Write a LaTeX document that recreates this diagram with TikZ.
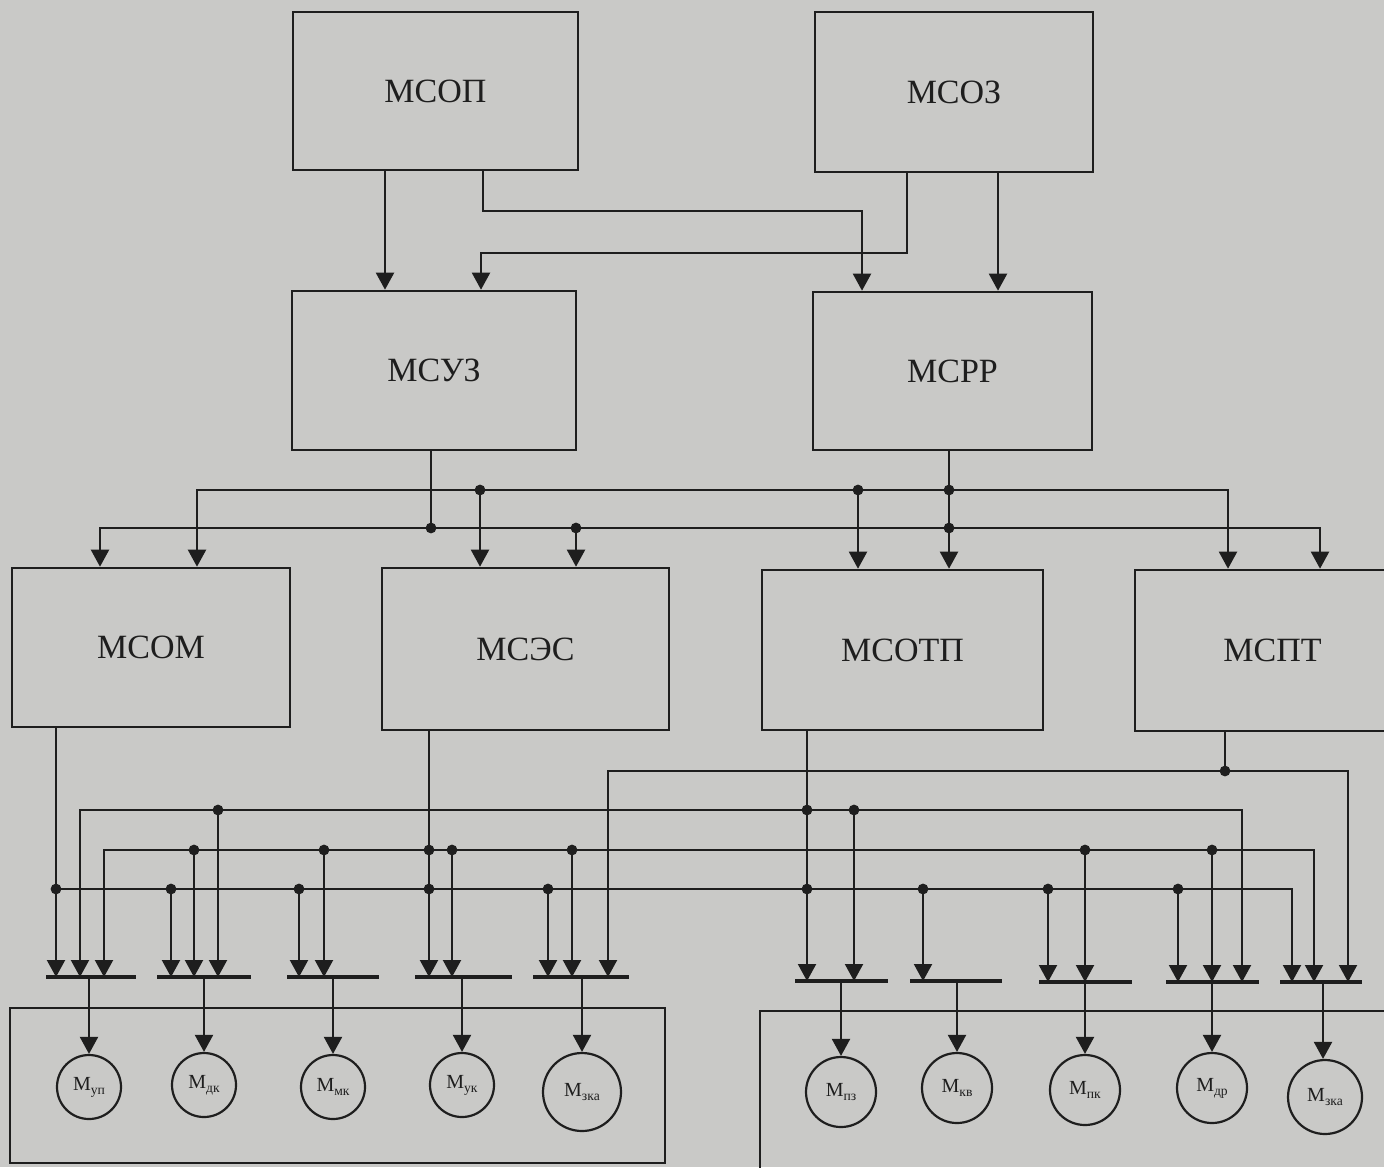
\documentclass[tikz,border=0pt]{standalone}
\usepackage{fontspec}
\setmainfont{Liberation Serif}
\usetikzlibrary{arrows.meta,calc}
\definecolor{paper}{RGB}{201,201,199}
\definecolor{ink}{RGB}{30,30,30}
% module label: letter M with a small lowered index
\newcommand\Msub[1]{М\raisebox{-0.45ex}{\fontsize{6.8}{7}\selectfont #1}}

\begin{document}
\begin{tikzpicture}[x=0.5pt,y=-0.5pt,
  >={Triangle[width=9pt,length=8.5pt]},
  wire/.style={draw=ink,line width=1.05pt},
  blk/.style={draw=ink,line width=1.3pt,inner sep=0pt,text=ink,
              font=\fontsize{17}{19}\selectfont},
  mod/.style={draw=ink,line width=1.1pt,circle,inner sep=0pt,text=ink,
              font=\fontsize{10}{11}\selectfont},
  frame/.style={draw=ink,line width=1.2pt,inner sep=0pt},
  barline/.style={draw=ink,line width=1.6pt},
  jdot/.style={fill=ink}]

\useasboundingbox (0,0) rectangle (1384,1167);
\clip (0,0) rectangle (1384,1167);
\fill[paper] (0,0) rectangle (1384,1167);

% ---------- control blocks ----------
\node[blk,minimum width=142.5pt,minimum height=79pt]  (msop)  at (435.5,91)    {МСОП};
\node[blk,minimum width=139pt,minimum height=80pt]    (msoz)  at (954,92)      {МСОЗ};
\node[blk,minimum width=142pt,minimum height=79.5pt]  (msuz)  at (434,370.5)   {МСУЗ};
\node[blk,minimum width=139.5pt,minimum height=79pt]  (msrr)  at (952.5,371)   {МСРР};
\node[blk,minimum width=139pt,minimum height=79.5pt]  (msom)  at (151,647.5)   {МСОМ};
\node[blk,minimum width=143.5pt,minimum height=81pt]  (mses)  at (525.5,649)   {МСЭС};
\node[blk,minimum width=140.5pt,minimum height=80pt]  (msotp) at (902.5,650)   {МСОТП};
\node[blk,minimum width=137.5pt,minimum height=80.5pt] (mspt) at (1272.5,650.5) {МСПТ};

% ---------- level 1 -> level 2 ----------
\draw[wire,->] (msop.south -| 385,0) -- (msuz.north -| 385,0);
\draw[wire,->] (msop.south -| 483,0) |- (862,211) -- (msrr.north -| 862,0);
\draw[wire,->] (msoz.south -| 907,0) |- (481,253) -- (msuz.north -| 481,0);
\draw[wire,->] (msoz.south -| 998,0) -- (msrr.north -| 998,0);

% ---------- level 2 -> level 3 ----------
\coordinate (a197) at (197,490);  \coordinate (a480) at (480,490);
\coordinate (a858) at (858,490);  \coordinate (a949) at (949,490);
\coordinate (a1228) at (1228,490);
\coordinate (b100) at (100,528);  \coordinate (b431) at (431,528);
\coordinate (b576) at (576,528);  \coordinate (b949) at (949,528);
\coordinate (b1320) at (1320,528);

\draw[wire,<->] (msom.north -| a197) -- (a197) -- (a1228) -- (mspt.north -| a1228);
\draw[wire,<->] (msom.north -| b100) -- (b100) -- (b1320) -- (mspt.north -| b1320);
\draw[wire] (msuz.south -| b431) -- (b431);
\draw[wire,->] (msrr.south -| a949) -- (msotp.north -| a949);
\draw[wire,->] (a480) -- (mses.north -| a480);
\draw[wire,->] (b576) -- (mses.north -| b576);
\draw[wire,->] (a858) -- (msotp.north -| a858);
\foreach \j in {a480,a858,a949,b431,b576,b949} \fill[jdot] (\j) circle (2.7pt);

% ---------- input bars of the modules ----------
\coordinate (g1) at (89,977);   \coordinate (g2) at (204,977);
\coordinate (g3) at (333,977);  \coordinate (g4) at (462,977);
\coordinate (g5) at (582,977);  \coordinate (g6) at (841,981);
\coordinate (g7) at (957,981);  \coordinate (g8) at (1085,982);
\coordinate (g9) at (1212,982); \coordinate (g10) at (1323,982);
\draw[barline] (46,977) -- (136,977);
\draw[barline] (157,977) -- (251,977);
\draw[barline] (287,977) -- (379,977);
\draw[barline] (415,977) -- (512,977);
\draw[barline] (533,977) -- (629,977);
\draw[barline] (795,981) -- (888,981);
\draw[barline] (910,981) -- (1002,981);
\draw[barline] (1039,982) -- (1132,982);
\draw[barline] (1166,982) -- (1259,982);
\draw[barline] (1280,982) -- (1362,982);

% ---------- level 3 -> modules ----------
% bus E (from МСПТ)
\coordinate (e608) at (608,771); \coordinate (e1225) at (1225,771);
\coordinate (e1348) at (1348,771);
\draw[wire,<->] (e608 |- g5) -- (e608) -- (e1348) -- (e1348 |- g10);
\draw[wire] (mspt.south -| e1225) -- (e1225);

% bus C (from МСОТП)
\coordinate (c80) at (80,810);   \coordinate (c218) at (218,810);
\coordinate (c807) at (807,810); \coordinate (c854) at (854,810);
\coordinate (c1242) at (1242,810);
\draw[wire,<->] (c80 |- g1) -- (c80) -- (c1242) -- (c1242 |- g9);
\draw[wire,->] (msotp.south -| c807) -- (c807 |- g6);
\draw[wire,->] (c218) -- (c218 |- g2);
\draw[wire,->] (c854) -- (c854 |- g6);

% bus P (from МСЭС)
\coordinate (p104) at (104,850);  \coordinate (p194) at (194,850);
\coordinate (p324) at (324,850);  \coordinate (p429) at (429,850);
\coordinate (p452) at (452,850);  \coordinate (p572) at (572,850);
\coordinate (p1085) at (1085,850); \coordinate (p1212) at (1212,850);
\coordinate (p1314) at (1314,850);
\draw[wire,<->] (p104 |- g1) -- (p104) -- (p1314) -- (p1314 |- g10);
\draw[wire,->] (mses.south -| p429) -- (p429 |- g4);
\foreach \j/\g in {p194/g2,p324/g3,p452/g4,p572/g5,p1085/g8,p1212/g9}
  \draw[wire,->] (\j) -- (\j |- \g);

% bus D (from МСОМ)
\coordinate (d56) at (56,889);    \coordinate (d171) at (171,889);
\coordinate (d299) at (299,889);  \coordinate (d429) at (429,889);
\coordinate (d548) at (548,889);  \coordinate (d807) at (807,889);
\coordinate (d923) at (923,889);  \coordinate (d1048) at (1048,889);
\coordinate (d1178) at (1178,889); \coordinate (d1292) at (1292,889);
\draw[wire,->] (d56) -- (d1292) -- (d1292 |- g10);
\draw[wire,->] (msom.south -| d56) -- (d56 |- g1);
\foreach \j/\g in {d171/g2,d299/g3,d548/g5,d923/g7,d1048/g8,d1178/g9}
  \draw[wire,->] (\j) -- (\j |- \g);

\foreach \j in {e1225,c218,c807,c854,p194,p324,p429,p452,p572,p1085,p1212,
                d56,d171,d299,d429,d548,d807,d923,d1048,d1178}
  \fill[jdot] (\j) circle (2.7pt);

% ---------- module groups ----------
\node[frame,minimum width=327.5pt,minimum height=77.5pt] (lowL) at (337.5,1085.5) {};
\node[frame,minimum width=332pt,minimum height=95pt]     (lowR) at (1092,1106)    {};

\node[mod,minimum size=32pt] (mup)  at (89,1087)   {\Msub{уп}};
\node[mod,minimum size=32pt] (mdk)  at (204,1085)  {\Msub{дк}};
\node[mod,minimum size=32pt] (mmk)  at (333,1087)  {\Msub{мк}};
\node[mod,minimum size=32pt] (muk)  at (462,1085)  {\Msub{ук}};
\node[mod,minimum size=39pt] (mzka) at (582,1092)  {\Msub{зка}};
\node[mod,minimum size=35pt] (mpz)  at (841,1092)  {\Msub{пз}};
\node[mod,minimum size=35pt] (mkv)  at (957,1088)  {\Msub{кв}};
\node[mod,minimum size=35pt] (mpk)  at (1085,1090) {\Msub{пк}};
\node[mod,minimum size=35pt] (mdr)  at (1212,1088) {\Msub{др}};
\node[mod,minimum size=37pt] (mzkb) at (1325,1097) {\Msub{зка}};

\foreach \g/\m in {g1/mup,g2/mdk,g3/mmk,g4/muk,g5/mzka,
                   g6/mpz,g7/mkv,g8/mpk,g9/mdr,g10/mzkb}
  \draw[wire,->] (\g) -- (\m.north -| \g);

\end{tikzpicture}
\end{document}
